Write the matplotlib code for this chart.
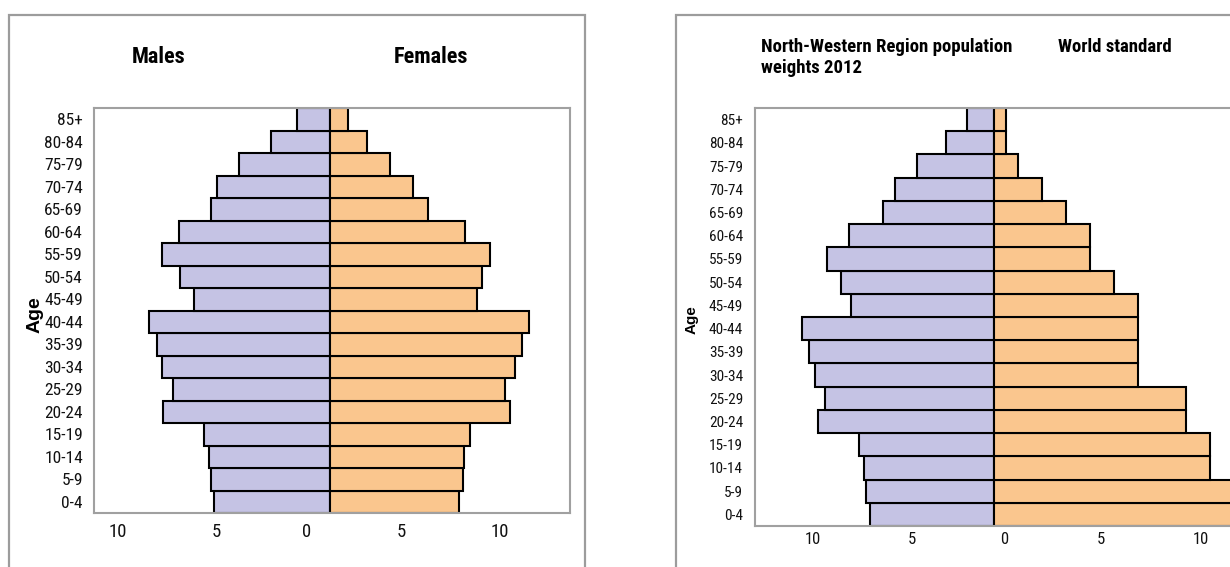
import numpy as np
import matplotlib.pyplot as plt
from matplotlib.patches import Rectangle
from matplotlib import font_manager

# age groups, bottom to top
ages = ['0-4', '5-9', '10-14', '15-19', '20-24', '25-29', '30-34', '35-39', '40-44',
        '45-49', '50-54', '55-59', '60-64', '65-69', '70-74', '75-79', '80-84', '85+']

# left panel: percent of each sex
males = [4.92, 5.08, 5.16, 5.36, 7.12, 6.67, 7.14, 7.37, 7.69,
         5.77, 6.38, 7.14, 6.43, 5.08, 4.80, 3.86, 2.51, 1.42]
females = [5.48, 5.65, 5.70, 5.96, 7.67, 7.43, 7.86, 8.16, 8.46,
           6.26, 6.46, 6.82, 5.76, 4.18, 3.52, 2.54, 1.56, 0.78]

# right panel: regional weights vs world standard
nw_region = [5.16, 5.34, 5.43, 5.64, 7.35, 7.03, 7.46, 7.71, 8.00,
             5.97, 6.39, 6.95, 6.05, 4.63, 4.14, 3.19, 2.02, 1.12]
world_std = [12, 10, 9, 9, 8, 8, 6, 6, 6, 6, 5, 4, 4, 3, 2, 1, 0.5, 0.5]

tick_text = ['10', '5', '0', '5', '10']


# look for a narrow / condensed sans face, fall back to Liberation Sans
def wt(f):
    w = f.weight
    if isinstance(w, str):
        return 700 if 'bold' in w.lower() else 400
    return w


narrow_faces = []
for f in font_manager.fontManager.ttflist:
    if f.style != 'normal':
        continue
    if 'Narrow' in f.name or 'Condensed' in f.name or str(f.stretch) in ('condensed', 'semi-condensed'):
        rank = 0 if 'Liberation' in f.name else 1 if 'Roboto' in f.name else 2 if 'DejaVu' in f.name else 3
        narrow_faces.append((rank, f))
narrow_faces.sort(key=lambda t: t[0])


def pick(bold):
    for _, f in narrow_faces:
        if (wt(f) >= 600) == bold:
            return f.fname
    return None


reg_file = pick(False)
bold_file = pick(True)


def fp(size, bold=False):
    f = bold_file if bold else reg_file
    if f is not None:
        return font_manager.FontProperties(fname=f, size=size)
    # no narrow face: plain font a bit smaller
    return font_manager.FontProperties(family='Liberation Sans', size=size * 0.85,
                                       weight='bold' if bold else 'normal')


male_col = '#C5C3E4'
female_col = '#FAC68E'
grey = '#a0a0a0'

W, H = 1230, 567
fig = plt.figure(figsize=(W / 100, H / 100), dpi=100)


def px_axes(x0, x1, y0, y1):
    # pixel box (top-left origin) -> axes
    return fig.add_axes([x0 / W, (H - y1) / H, (x1 - x0) / W, (y1 - y0) / H])


def frame(x0, x1, y0):
    r = Rectangle((x0 / 100, -0.2), (x1 - x0) / 100, (H - y0) / 100 + 0.2,
                  transform=fig.dpi_scale_trans, fill=False, edgecolor='#9c9c9c', lw=1.6)
    fig.add_artist(r)


def pyramid(ax, left_vals, right_vals, xlim, ticks, ysize, xsize, ypad, xpad):
    y = np.arange(len(ages))
    ax.barh(y, -np.array(left_vals), height=1.0, color=male_col, edgecolor='black', linewidth=1.5)
    ax.barh(y, right_vals, height=1.0, color=female_col, edgecolor='black', linewidth=1.5)
    ax.set_xlim(*xlim)
    ax.set_ylim(-0.5, len(ages) - 0.5)
    ax.set_yticks(y)
    ax.set_yticklabels(ages, fontproperties=fp(ysize), color='#111111')
    ax.set_xticks(ticks)
    ax.set_xticklabels(tick_text, fontproperties=fp(xsize), color='#111111')
    ax.tick_params(axis='y', length=0, pad=ypad)
    ax.tick_params(axis='x', length=0, pad=xpad)
    for s in ax.spines.values():
        s.set_color(grey)
        s.set_linewidth(1.5)


frame(8.5, 584.5, 15)
frame(676, 1300, 15)

# left panel
ax1 = px_axes(94, 570, 108, 513)
pyramid(ax1, males, females, (-10.04, 10.21), [-9.02, -4.85, -0.99, 3.05, 7.23],
        12.5, 13.5, 8, 7)
fig.text(158.6 / W, 1 - 57 / H, 'Males', ha='center', va='center', fontproperties=fp(16, True))
fig.text(431 / W, 1 - 57 / H, 'Females', ha='center', va='center', fontproperties=fp(16, True))
fig.text(35.5 / W, 1 - 315 / H, 'Age', ha='center', va='center', rotation=90,
         family='Liberation Sans', fontsize=14, fontweight='bold')

# right panel
ax2 = px_axes(755, 1234, 108, 526)
pyramid(ax2, nw_region, world_std, (-9.96, 10.0), [-7.56, -3.42, 0.43, 4.44, 8.62],
        11, 12, 8.5, 4)
ax2.spines['right'].set_visible(False)
fig.text(761 / W, 1 - 46.7 / H, 'North-Western Region population', ha='left', va='center',
         fontproperties=fp(13.5, True))
fig.text(761 / W, 1 - 68.3 / H, 'weights 2012', ha='left', va='center',
         fontproperties=fp(13.5, True))
fig.text(1058 / W, 1 - 46.7 / H, 'World standard', ha='left', va='center',
         fontproperties=fp(13.5, True))
fig.text(692 / W, 1 - 320 / H, 'Age', ha='center', va='center', rotation=90,
         family='Liberation Sans', fontsize=11, fontweight='bold')

fig.savefig('out.png', dpi=100)
